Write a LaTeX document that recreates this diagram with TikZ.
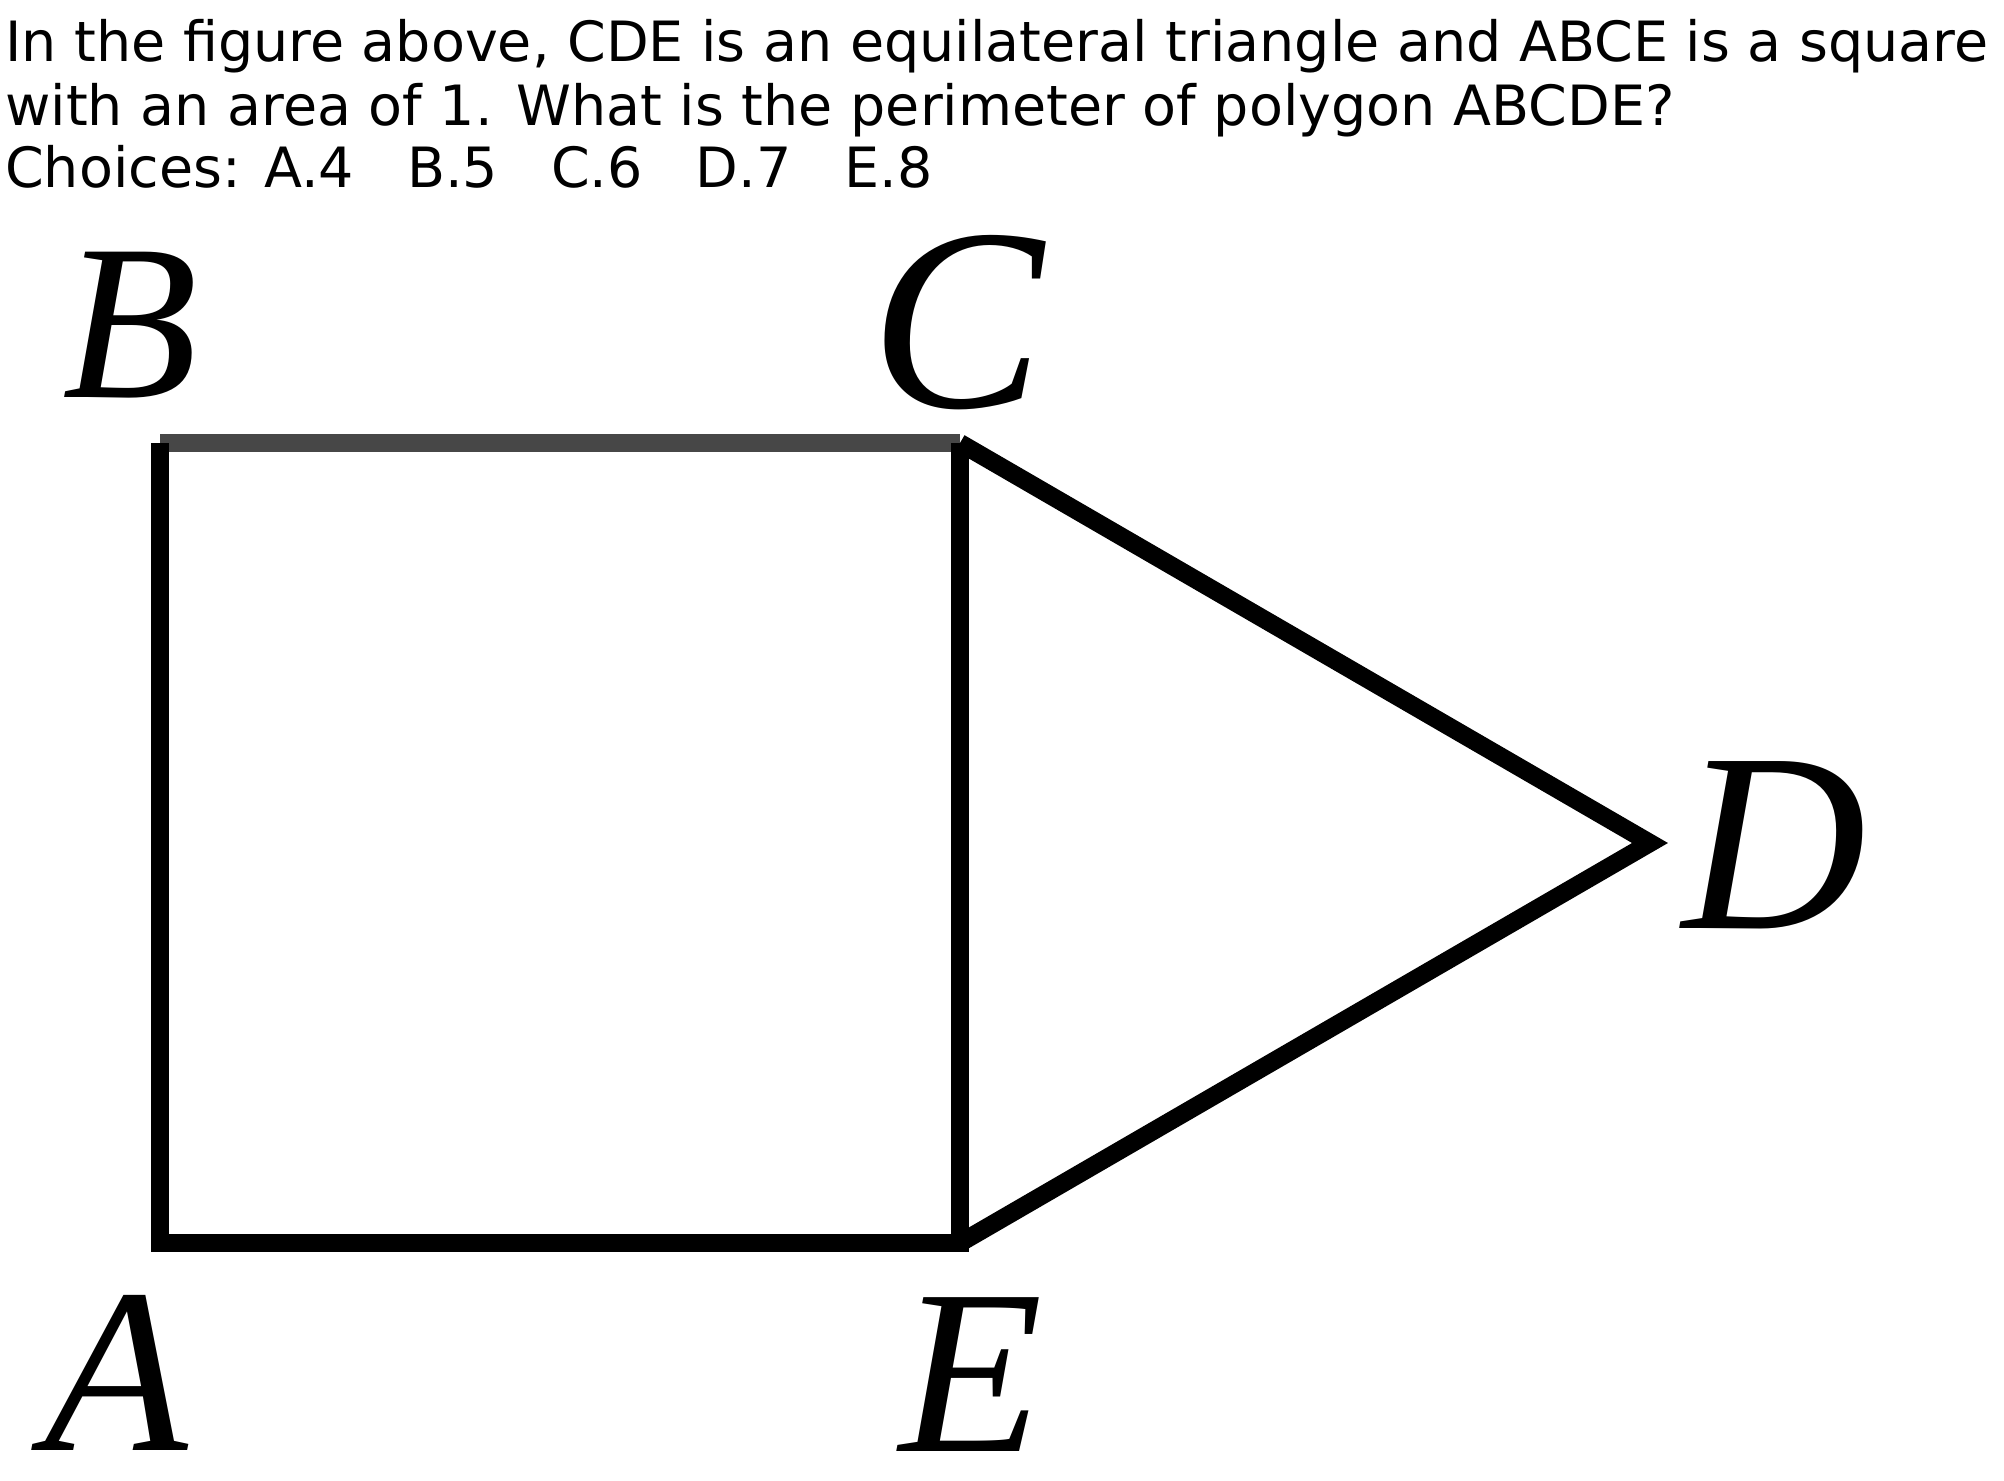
\documentclass[tikz,border=0pt]{standalone}
\usepackage{fontspec}
\setmainfont{DejaVu Sans}
\newfontfamily\lblfont{Liberation Serif}
\begin{document}
\begin{tikzpicture}[x=1pt,y=-1pt,
  txt/.style={anchor=base west,inner sep=0pt,font=\fontsize{55.5}{62}\selectfont},
  lbl/.style={anchor=base,inner sep=0pt,font=\lblfont\itshape\fontsize{#1}{#1}\selectfont},
  edge/.style={line width=18pt,line join=miter,line cap=butt,draw=black},
  topedge/.style={line width=18pt,line cap=square,draw=black!72}]
\useasboundingbox[fill=white] (0,0) rectangle (2004,1480);
\node[txt] (t1) at (5,62) {In the figure above, CDE is an equilateral triangle and ABCE is a square};
\node[txt] (t2) at (5,125) {with an area of 1. What is the perimeter of polygon ABCDE?};
\node[txt] (t3) at (5,187) {Choices: A.4\ \ \ B.5\ \ \ C.6\ \ \ D.7\ \ \ E.8};
\coordinate (A) at (160,1243);
\coordinate (B) at (160,443);
\coordinate (C) at (960,443);
\coordinate (E) at (960,1243);
\coordinate (D) at (1650,843);
\draw[topedge] (B) -- (C);
\draw[edge] (C) -- (E) -- (A) -- (B) -- ([yshift=-9pt]B);
\draw[edge] (C) -- (D) -- (E);
\node[lbl=222] (lB) at (130,397) {B};
\node[lbl=260] (lC) at (957,407) {C};
\node[lbl=255] (lD) at (1775,928) {D};
\node[lbl=235] (lA) at (116,1450) {A};
\node[lbl=235] (lE) at (971,1451) {E};
\end{tikzpicture}
\end{document}
